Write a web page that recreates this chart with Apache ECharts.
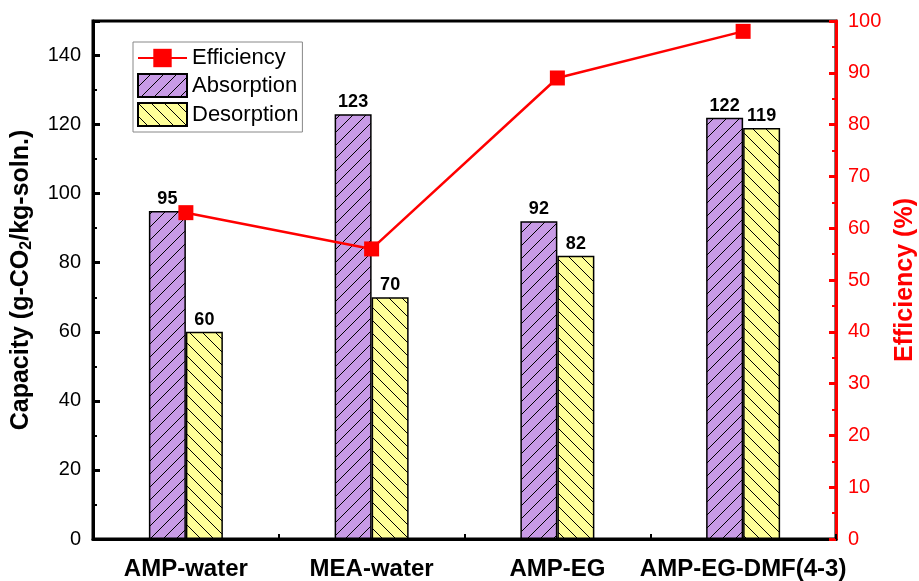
<!DOCTYPE html>
<html><head><meta charset="utf-8">
<script src="https://cdn.jsdelivr.net/npm/echarts@6/dist/echarts.min.js"></script>
<style>html,body{margin:0;padding:0;background:#fff}#c{width:919px;height:581px}</style>
</head><body><div id="c"></div>
<script>
const categories = ['AMP-water', 'MEA-water', 'AMP-EG', 'AMP-EG-DMF(4-3)'];
const absorption = [95, 123, 92, 122];
const desorption = [60, 70, 82, 119];
const efficiency = [63, 56, 89, 98];

function hatch(bg, dir) {
  const s = 13, c = document.createElement('canvas');
  c.width = s; c.height = s;
  const g = c.getContext('2d');
  g.fillStyle = bg; g.fillRect(0, 0, s, s);
  g.strokeStyle = '#000'; g.lineWidth = 1;
  g.beginPath();
  for (let k = -1; k <= 1; k++) {
    if (dir > 0) { g.moveTo(k * s, s); g.lineTo(k * s + s, 0); }
    else { g.moveTo(k * s, 0); g.lineTo(k * s + s, s); }
  }
  g.stroke();
  return c;
}

const font = 'Liberation Sans, Arial, sans-serif';
const chart = echarts.init(document.getElementById('c'), null, {renderer: 'canvas'});
chart.setOption({
  animation: false,
  textStyle: {fontFamily: font},
  grid: {left: 93, right: 83, top: 21, bottom: 42, show: true, borderColor: '#000', borderWidth: 3,
    containLabel: false, outerBoundsMode: 'none'},
  legend: {
    left: 133, top: 42, orient: 'vertical', itemGap: 4, itemWidth: 49, itemHeight: 23,
    borderColor: '#888', borderWidth: 1, padding: [5, 4, 5, 4],
    textStyle: {fontSize: 22, color: '#000', fontFamily: font},
    data: [{name: 'Efficiency'}, {name: 'Absorption', icon: 'rect'}, {name: 'Desorption', icon: 'rect'}]
  },
  xAxis: {
    type: 'category', data: categories,
    axisLine: {lineStyle: {color: '#000', width: 3}},
    axisTick: {show: true, inside: true, length: 5, lineStyle: {color: '#000', width: 2}},
    axisLabel: {interval: 0, fontSize: 24, fontWeight: 'bold', color: '#000', margin: 18, fontFamily: font}
  },
  yAxis: [{
    type: 'value', min: 0, max: 150, interval: 20,
    name: 'Capacity (g-CO{sub|2}/kg-soln.)', nameLocation: 'middle', nameGap: 58, nameRotate: 90,
    nameTextStyle: {fontSize: 25, fontWeight: 'bold', color: '#000', fontFamily: font,
      rich: {sub: {fontSize: 16, fontWeight: 'bold', verticalAlign: 'bottom', padding: [12, 0, 0, 0], fontFamily: font}}},
    axisLine: {show: true, lineStyle: {color: '#000', width: 3}},
    axisTick: {show: true, inside: true, length: 7, lineStyle: {color: '#000', width: 3}},
    minorTick: {show: true, splitNumber: 2, length: 4, lineStyle: {color: '#000', width: 2}},
    splitLine: {show: false},
    axisLabel: {fontSize: 20, color: '#000', margin: 12, fontFamily: font,
      formatter: v => (v % 20 === 0 && v <= 140) ? v : ''}
  }, {
    type: 'value', min: 0, max: 100, interval: 10, position: 'right',
    name: 'Efficiency (%)', nameLocation: 'middle', nameGap: 56, nameRotate: 90,
    nameTextStyle: {fontSize: 25, fontWeight: 'bold', color: '#ff0000', fontFamily: font},
    axisLine: {show: true, lineStyle: {color: '#ff0000', width: 3}},
    axisTick: {show: true, inside: true, length: 7, lineStyle: {color: '#ff0000', width: 3}},
    minorTick: {show: true, splitNumber: 2, length: 4, lineStyle: {color: '#ff0000', width: 2}},
    splitLine: {show: false},
    axisLabel: {fontSize: 20, color: '#ff0000', margin: 12, fontFamily: font}
  }],
  series: [{
    name: 'Absorption', type: 'bar', data: absorption, barWidth: 37, barGap: '0%',
    itemStyle: {color: {image: hatch('#c89be6', 1), repeat: 'repeat'}, borderColor: '#000', borderWidth: 1.5},
    label: {show: true, position: 'top', fontSize: 18, fontWeight: 'bold', color: '#000', distance: 3, fontFamily: font}
  }, {
    name: 'Desorption', type: 'bar', data: desorption, barWidth: 37,
    itemStyle: {color: {image: hatch('#ffff99', -1), repeat: 'repeat'}, borderColor: '#000', borderWidth: 1.5},
    label: {show: true, position: 'top', fontSize: 18, fontWeight: 'bold', color: '#000', distance: 3, fontFamily: font}
  }, {
    name: 'Efficiency', type: 'line', yAxisIndex: 1, data: efficiency,
    symbol: 'rect', symbolSize: 15, z: 5,
    lineStyle: {color: '#ff0000', width: 2.5}, itemStyle: {color: '#ff0000'}
  }]
});
</script></body></html>
